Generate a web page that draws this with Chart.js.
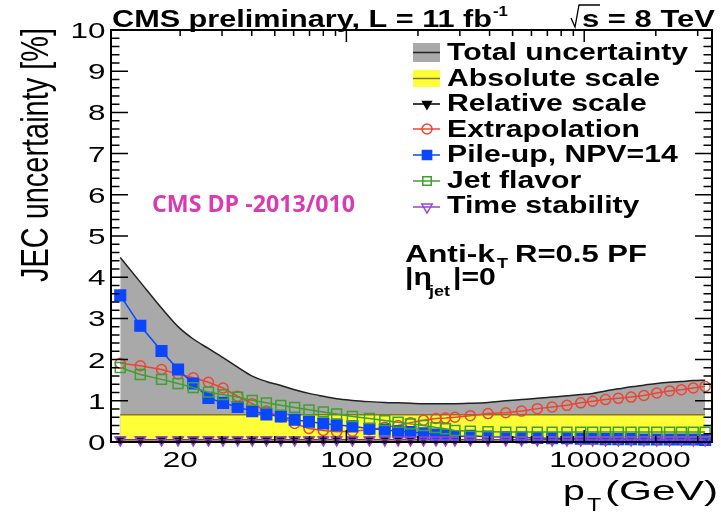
<!DOCTYPE html>
<html lang="en">
<head>
<meta charset="UTF-8">
<title>JEC uncertainty</title>
<script src="https://cdn.jsdelivr.net/npm/chart.js"></script>
<style>
  html, body { margin: 0; padding: 0; background: #fff; }
  #wrap { width: 721px; height: 515px; }
</style>
</head>
<body>
<div id="wrap"><canvas id="jec" width="721" height="515"></canvas></div>
<script>
// pT bin centres (GeV)
const ptBins = [11.2, 13.6, 16.7, 19.6, 22.7, 26.3, 30.3, 34.9, 40.2, 46.1,
  53, 60.6, 69.6, 80, 91, 106, 125, 145, 165, 186,
  211, 238, 261, 286, 332, 394, 468, 545, 635, 733,
  846, 967, 1085, 1229, 1391, 1574, 1782, 2018, 2285, 2563,
  2874, 3224];

// uncertainties in %
const totalUnc = [4.48, 3.88, 3.25, 2.80, 2.50, 2.27, 2.05, 1.82, 1.60, 1.47,
  1.37, 1.27, 1.18, 1.11, 1.05, 1.01, 0.98, 0.96, 0.95, 0.94,
  0.93, 0.93, 0.93, 0.93, 0.94, 0.96, 1.00, 1.03, 1.06, 1.09,
  1.12, 1.15, 1.18, 1.24, 1.29, 1.34, 1.38, 1.42, 1.45, 1.47,
  1.49, 1.50];
const absoluteScale = [0.66, 0.66, 0.66, 0.66, 0.66, 0.66, 0.66, 0.66, 0.66, 0.66,
  0.66, 0.66, 0.66, 0.66, 0.66, 0.66, 0.66, 0.66, 0.66, 0.66,
  0.66, 0.66, 0.66, 0.66, 0.66, 0.66, 0.66, 0.66, 0.66, 0.66,
  0.66, 0.66, 0.66, 0.66, 0.66, 0.66, 0.66, 0.66, 0.66, 0.66,
  0.66, 0.66];
const relativeScale = [0.06, 0.06, 0.06, 0.06, 0.06, 0.06, 0.06, 0.06, 0.06, 0.06,
  0.06, 0.06, 0.06, 0.06, 0.06, 0.06, 0.06, 0.06, 0.06, 0.06,
  0.06, 0.06, 0.06, 0.06, 0.06, 0.06, 0.06, 0.06, 0.06, 0.06,
  0.06, 0.06, 0.06, 0.06, 0.06, 0.06, 0.06, 0.06, 0.06, 0.06,
  0.06, 0.06];
const extrapolation = [1.91, 1.85, 1.76, 1.65, 1.56, 1.45, 1.31, 1.11, 0.93, 0.75,
  0.61, 0.45, 0.33, 0.28, 0.25, 0.26, 0.30, 0.36, 0.40, 0.47,
  0.53, 0.57, 0.58, 0.60, 0.64, 0.69, 0.71, 0.75, 0.81, 0.85,
  0.89, 0.95, 0.99, 1.03, 1.06, 1.09, 1.13, 1.19, 1.24, 1.27,
  1.31, 1.35];
const pileUp = [3.56, 2.82, 2.21, 1.76, 1.42, 1.07, 0.95, 0.85, 0.75, 0.67,
  0.62, 0.54, 0.49, 0.45, 0.41, 0.38, 0.32, 0.30, 0.26, 0.24,
  0.21, 0.18, 0.16, 0.13, 0.15, 0.13, 0.12, 0.11, 0.10, 0.09,
  0.09, 0.08, 0.08, 0.07, 0.07, 0.07, 0.06, 0.06, 0.06, 0.06,
  0.06, 0.05];
const jetFlavor = [1.81, 1.64, 1.52, 1.42, 1.32, 1.21, 1.15, 1.09, 1.01, 0.95,
  0.89, 0.84, 0.78, 0.73, 0.68, 0.62, 0.57, 0.52, 0.48, 0.44,
  0.40, 0.35, 0.32, 0.28, 0.26, 0.25, 0.24, 0.24, 0.24, 0.24,
  0.24, 0.24, 0.24, 0.24, 0.24, 0.24, 0.24, 0.24, 0.24, 0.24,
  0.24, 0.24];
const timeStability = [0.05, 0.05, 0.05, 0.05, 0.05, 0.05, 0.05, 0.05, 0.05, 0.05,
  0.05, 0.05, 0.05, 0.05, 0.05, 0.05, 0.05, 0.05, 0.05, 0.05,
  0.05, 0.05, 0.05, 0.05, 0.05, 0.05, 0.05, 0.05, 0.05, 0.05,
  0.05, 0.05, 0.05, 0.05, 0.05, 0.05, 0.05, 0.05, 0.05, 0.05,
  0.05, 0.05];

// axis ticks
const yTickLabels = [0, 1, 2, 3, 4, 5, 6, 7, 8, 9, 10];
const xTickLabels = [20, 100, 200, 1000, 2000];
const xMajorTicks = [100, 1000];
const xMinorTicks = [20, 30, 40, 50, 60, 70, 80, 90, 200, 300, 400, 500, 600, 700, 800, 900, 2000, 3000];

const legendNames = ['Total uncertainty', 'Absolute scale', 'Relative scale', 'Extrapolation',
  'Pile-up, NPV=14', 'Jet flavor', 'Time stability'];

const pts = vals => ptBins.map((p, i) => ({ x: p, y: vals[i] }));

const SANS = '"Liberation Sans", Arial, sans-serif';
const GRAY = '#a9a9a9', YELLOW = '#ffff38', OLIVE = '#857526';
const RED = '#ee4433', BLUE = '#0a46ff', GREEN = '#3f9f30', PURPLE = '#9944cc';

function textAt(ctx, txt, x, y, font, sx, align) {
  ctx.save();
  ctx.font = font;
  ctx.textAlign = align || 'left';
  ctx.translate(x, y);
  ctx.scale(sx, 1);
  ctx.fillText(txt, 0, 0);
  ctx.restore();
}
function fitScale(ctx, txt, font, width) {
  ctx.save();
  ctx.font = font;
  const w = ctx.measureText(txt).width;
  ctx.restore();
  return width / w;
}

const rootDecor = {
  id: 'rootDecor',
  afterDraw(chart) {
    const { ctx, chartArea: a, scales: { x, y } } = chart;
    ctx.save();
    ctx.fillStyle = '#000';
    ctx.strokeStyle = '#000';

    // frame
    ctx.lineWidth = 2;
    ctx.strokeRect(a.left, a.top, a.right - a.left, a.bottom - a.top);

    // y ticks (left and right)
    ctx.lineWidth = 1.5;
    for (let i = 0; i <= 50; i++) {
      const py = y.getPixelForValue(i / 5);
      const len = i % 5 === 0 ? 17 : 8.5;
      ctx.beginPath();
      ctx.moveTo(a.left, py); ctx.lineTo(a.left + len, py);
      ctx.moveTo(a.right, py); ctx.lineTo(a.right - len, py);
      ctx.stroke();
    }
    // x ticks (bottom and top)
    const xt = xMajorTicks.map(v => [v, 12]).concat(xMinorTicks.map(v => [v, 6]));
    xt.forEach(([v, len]) => {
      const px = x.getPixelForValue(v);
      ctx.beginPath();
      ctx.moveTo(px, a.bottom); ctx.lineTo(px, a.bottom - len);
      ctx.moveTo(px, a.top); ctx.lineTo(px, a.top + len);
      ctx.stroke();
    });

    // tick labels
    const tickFont = '22px ' + SANS;
    yTickLabels.forEach(v => {
      textAt(ctx, String(v), 105.5, y.getPixelForValue(v) + 8, tickFont, 1.43, 'right');
    });
    xTickLabels.forEach(v => {
      textAt(ctx, String(v), x.getPixelForValue(v), 467, tickFont, 1.43, 'center');
    });

    // axis titles
    const yTitle = 'JEC uncertainty [%]';
    const yFont = '39px ' + SANS;
    ctx.save();
    ctx.translate(48, 282);
    ctx.rotate(-Math.PI / 2);
    textAt(ctx, yTitle, 0, 0, yFont, fitScale(ctx, yTitle, yFont, 254));
    ctx.restore();

    textAt(ctx, 'p', 563, 500, '28px ' + SANS, 1.4);
    textAt(ctx, 'T', 587, 511, '18px ' + SANS, 1.3);
    textAt(ctx, '(GeV)', 605, 500, '28px ' + SANS, fitScale(ctx, '(GeV)', '28px ' + SANS, 113));

    // header
    const hFont = 'bold 23px ' + SANS;
    const head = 'CMS preliminary, L = 11 fb';
    textAt(ctx, head, 112, 27, hFont, fitScale(ctx, head, hFont, 380));
    textAt(ctx, '-1', 493, 16, 'bold 14px ' + SANS, 1.2);
    ctx.lineWidth = 1.3;
    ctx.beginPath();
    ctx.moveTo(571, 18); ctx.lineTo(575, 27); ctx.lineTo(579, 5); ctx.lineTo(600, 5);
    ctx.stroke();
    textAt(ctx, 's = 8 TeV', 582, 27, hFont, fitScale(ctx, 's = 8 TeV', hFont, 133));

    // legend
    const lFont = 'bold 23px ' + SANS;
    const lsx = fitScale(ctx, legendNames[0], lFont, 241);
    const base = [60, 86, 111, 136.5, 162, 188, 213];
    legendNames.forEach((n, i) => textAt(ctx, n, 447, base[i], lFont, lsx));

    const x0 = 413, x1 = 440, xm = 427;
    ctx.fillStyle = GRAY;
    ctx.fillRect(x0, 43, x1 - x0, 19);
    ctx.fillStyle = YELLOW;
    ctx.fillRect(x0, 70, x1 - x0, 17);
    const line = (col, yy, lw) => {
      ctx.strokeStyle = col; ctx.lineWidth = lw || 1.5;
      ctx.beginPath(); ctx.moveTo(x0, yy); ctx.lineTo(x1, yy); ctx.stroke();
    };
    line('#222', 52.5); line(OLIVE, 78.5);
    const mark = (col, fill, yy, style, r, rot) => {
      line(col, yy);
      ctx.strokeStyle = col; ctx.fillStyle = fill; ctx.lineWidth = 1.5;
      Chart.helpers.drawPoint(ctx, { pointStyle: style, radius: r, rotation: rot || 0, borderWidth: 1.5 }, xm, yy);
    };
    mark('#000', '#000', 104, 'triangle', 5, 180);
    mark(RED, 'rgba(0,0,0,0)', 129, 'circle', 5);
    mark(BLUE, BLUE, 155, 'rect', 6.5);
    mark(GREEN, 'rgba(0,0,0,0)', 181, 'rect', 6);
    mark(PURPLE, 'rgba(0,0,0,0)', 207, 'triangle', 6, 180);

    // annotations
    ctx.fillStyle = '#d93cb2';
    const dp = 'CMS DP -2013/010';
    const dpFont = 'bold 23px "Open Sans", sans-serif';
    textAt(ctx, dp, 152, 211.5, dpFont, fitScale(ctx, dp, dpFont, 203));

    ctx.fillStyle = '#000';
    textAt(ctx, 'Anti-k', 405, 262, lFont, fitScale(ctx, 'Anti-k', lFont, 90));
    textAt(ctx, 'T', 497, 268, 'bold 15px ' + SANS, 1.2);
    textAt(ctx, 'R=0.5 PF', 515, 262, lFont, fitScale(ctx, 'R=0.5 PF', lFont, 132));
    textAt(ctx, '|η', 405, 285, lFont, lsx);
    textAt(ctx, 'jet', 429, 296, 'bold 15px ' + SANS, 1.2);
    textAt(ctx, '|=0', 453, 285, lFont, lsx);

    ctx.restore();
  }
};

new Chart(document.getElementById('jec'), {
  type: 'line',
  data: {
    datasets: [
      { label: legendNames[0], data: pts(totalUnc), order: 7, fill: 'origin',
        backgroundColor: GRAY, borderColor: '#222', borderWidth: 1.5,
        pointRadius: 0, cubicInterpolationMode: 'monotone' },
      { label: legendNames[1], data: pts(absoluteScale), order: 6, fill: 'origin',
        backgroundColor: YELLOW, borderColor: OLIVE, borderWidth: 1.5, pointRadius: 0 },
      { label: legendNames[2], data: pts(relativeScale), order: 5, clip: false,
        borderColor: '#000', borderWidth: 1.2, pointStyle: 'triangle', pointRotation: 180,
        pointRadius: 5, pointBackgroundColor: '#000', pointBorderColor: '#000' },
      { label: legendNames[3], data: pts(extrapolation), order: 4, clip: false,
        borderColor: RED, borderWidth: 1.5, pointStyle: 'circle', pointRadius: 5,
        pointBackgroundColor: 'rgba(0,0,0,0)', pointBorderColor: RED, pointBorderWidth: 1.5 },
      { label: legendNames[4], data: pts(pileUp), order: 3, clip: false,
        borderColor: BLUE, borderWidth: 1.5, pointStyle: 'rect', pointRadius: 7.5,
        pointBackgroundColor: BLUE, pointBorderColor: BLUE },
      { label: legendNames[5], data: pts(jetFlavor), order: 2, clip: false,
        borderColor: GREEN, borderWidth: 1.5, pointStyle: 'rect', pointRadius: 7,
        pointBackgroundColor: 'rgba(0,0,0,0)', pointBorderColor: GREEN, pointBorderWidth: 1.5 },
      { label: legendNames[6], data: pts(timeStability), order: 1, clip: false,
        borderColor: PURPLE, borderWidth: 1.2, pointStyle: 'triangle', pointRotation: 180,
        pointRadius: 6, pointBackgroundColor: 'rgba(0,0,0,0)', pointBorderColor: PURPLE,
        pointBorderWidth: 1.5 }
    ]
  },
  options: {
    responsive: false,
    animation: false,
    layout: { padding: { left: 111, right: 1, top: 30, bottom: 73 } },
    plugins: { legend: { display: false }, tooltip: { enabled: false } },
    scales: {
      x: { type: 'logarithmic', min: 10.24, max: 3446, display: false },
      y: { type: 'linear', min: 0, max: 10, display: false }
    }
  },
  plugins: [rootDecor]
});
</script>
</body>
</html>
